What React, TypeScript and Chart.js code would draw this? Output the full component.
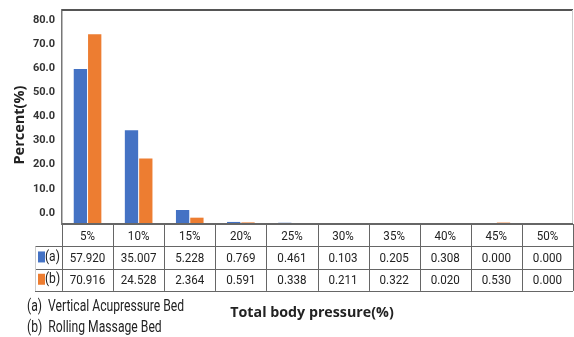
import React, { useEffect, useRef } from "react";
import { Chart, registerables } from "chart.js";

Chart.register(...registerables);

const categories = ["5%", "10%", "15%", "20%", "25%", "30%", "35%", "40%", "45%", "50%"];
const seriesA = [57.92, 35.007, 5.228, 0.769, 0.461, 0.103, 0.205, 0.308, 0.0, 0.0];
const seriesB = [70.916, 24.528, 2.364, 0.591, 0.338, 0.211, 0.322, 0.02, 0.53, 0.0];
const seriesKeys = ["(a)", "(b)"];
const legendLines = ["(a)  Vertical Acupressure Bed", "(b)  Rolling Massage Bed"];
const yTitle = "Percent(%)";
const xTitle = "Total body pressure(%)";

const BLUE = "#4472C4";
const ORANGE = "#ED7D31";
const NARROW = "'Liberation Sans Narrow', 'Roboto', sans-serif";

function condensedText(ctx: any, text: string, x: number, y: number, sx: number, align: string) {
  ctx.save();
  ctx.translate(x, y);
  ctx.scale(sx, 1);
  ctx.textAlign = align;
  ctx.fillText(text, 0, 0);
  ctx.restore();
}

const tablePlugin = {
  id: "tableAndFrame",
  afterDraw(chart: any) {
    const { ctx, chartArea: a } = chart;
    const xs = chart.scales.x;
    const n = categories.length;
    const w = (a.right - a.left) / n;
    const rowH = 22.3;
    const t0 = a.bottom;
    ctx.save();
    // frame top
    ctx.strokeStyle = "#555";
    ctx.lineWidth = 2;
    ctx.beginPath();
    ctx.moveTo(a.left, a.top);
    ctx.lineTo(a.right, a.top);
    ctx.stroke();
    ctx.strokeStyle = "#ccc";
    ctx.lineWidth = 1;
    ctx.beginPath();
    ctx.moveTo(a.right - 0.5, a.top);
    ctx.lineTo(a.right - 0.5, a.bottom);
    ctx.stroke();
    // axis line
    ctx.strokeStyle = "#666";
    ctx.lineWidth = 2;
    ctx.beginPath();
    ctx.moveTo(a.left, a.bottom);
    ctx.lineTo(a.right, a.bottom);
    ctx.stroke();
    // table grid
    ctx.strokeStyle = "#666";
    ctx.lineWidth = 1;
    ctx.beginPath();
    for (let r = 1; r <= 3; r++) {
      const y = Math.round(t0 + r * rowH) + 0.5;
      ctx.moveTo(a.left - 27, y);
      ctx.lineTo(a.right, y);
    }
    for (let i = 0; i <= n; i++) {
      const x = Math.round(a.left + i * w) + 0.5;
      ctx.moveTo(x, t0);
      ctx.lineTo(x, t0 + 3 * rowH);
    }
    ctx.stroke();
    ctx.strokeStyle = "#ccc";
    ctx.beginPath();
    ctx.moveTo(a.left - 26.5, t0 + rowH);
    ctx.lineTo(a.left - 26.5, t0 + 3 * rowH);
    ctx.stroke();
    // texts
    ctx.fillStyle = "#222";
    ctx.font = `13.5px ${NARROW}`;
    ctx.textBaseline = "middle";
    const rows = [seriesA, seriesB];
    categories.forEach((c, i) => {
      const cx = xs.getPixelForTick(i);
      condensedText(ctx, c, cx, t0 + rowH * 0.5 + 1, 0.86, "center");
      rows.forEach((row, r) => {
        condensedText(ctx, row[i].toFixed(3), cx, t0 + rowH * (r + 1.5) + 1, 0.86, "center");
      });
    });
    // keys
    [BLUE, ORANGE].forEach((col, r) => {
      const yc = t0 + rowH * (r + 1.5);
      ctx.fillStyle = col;
      ctx.fillRect(a.left - 24, yc - 6, 7, 11);
      ctx.fillStyle = "#222";
      ctx.font = `14px ${NARROW}`;
      condensedText(ctx, seriesKeys[r], a.left - 17, yc, 0.86, "left");
    });
    // x title
    ctx.fillStyle = "#222";
    ctx.font = "bold 15px 'Open Sans', sans-serif";
    condensedText(ctx, xTitle, 312, 313, 0.95, "center");
    // y title
    ctx.save();
    ctx.translate(20, 125);
    ctx.rotate(-Math.PI / 2);
    ctx.font = "bold 14.5px 'Open Sans', sans-serif";
    ctx.textAlign = "center";
    ctx.fillText(yTitle, 0, 0);
    ctx.restore();
    // legend lines (condensed)
    ctx.font = `16px ${NARROW}`;
    condensedText(ctx, legendLines[0], 27, 307, 0.76, "left");
    condensedText(ctx, legendLines[1], 27, 328, 0.76, "left");
    ctx.restore();
  },
};

export default function App() {
  const ref = useRef<HTMLCanvasElement>(null);
  useEffect(() => {
    if (!ref.current) return;
    const chart = new Chart(ref.current, {
      type: "bar",
      data: {
        labels: categories,
        datasets: [
          { label: "(a)", data: seriesA, backgroundColor: BLUE, categoryPercentage: 0.56, barPercentage: 0.93 },
          { label: "(b)", data: seriesB, backgroundColor: ORANGE, categoryPercentage: 0.56, barPercentage: 0.93 },
        ],
      },
      options: {
        animation: false,
        responsive: false,
        devicePixelRatio: 1,
        layout: { padding: { left: 0, top: 10, right: 1, bottom: 113 } },
        plugins: { legend: { display: false }, tooltip: { enabled: false } },
        scales: {
          x: { display: false },
          y: { display: false, min: 0, max: 80 },
          yl: {
            type: "linear",
            position: "left",
            min: -4.56,
            max: 84.1,
            grid: { display: false, drawTicks: false },
            border: { display: true, color: "#777", width: 1.5 },
            ticks: {
              stepSize: 10,
              includeBounds: false,
              padding: 7,
              color: "#333",
              font: { family: NARROW, size: 11, weight: "bold" },
              callback: (v: any) => Number(v).toFixed(1),
            },
            title: { display: false },
            afterFit: (s: any) => {
              s.width = 62;
              s.paddingTop = 0;
              s.paddingBottom = 0;
            },
          },
        },
      },
      plugins: [tablePlugin],
    } as any);
    return () => chart.destroy();
  }, []);
  return (
    <div style={{ position: "fixed", left: 0, top: 0, width: 574, height: 337, background: "#fff" }}>
      <canvas ref={ref} width={574} height={337} />
    </div>
  );
}
